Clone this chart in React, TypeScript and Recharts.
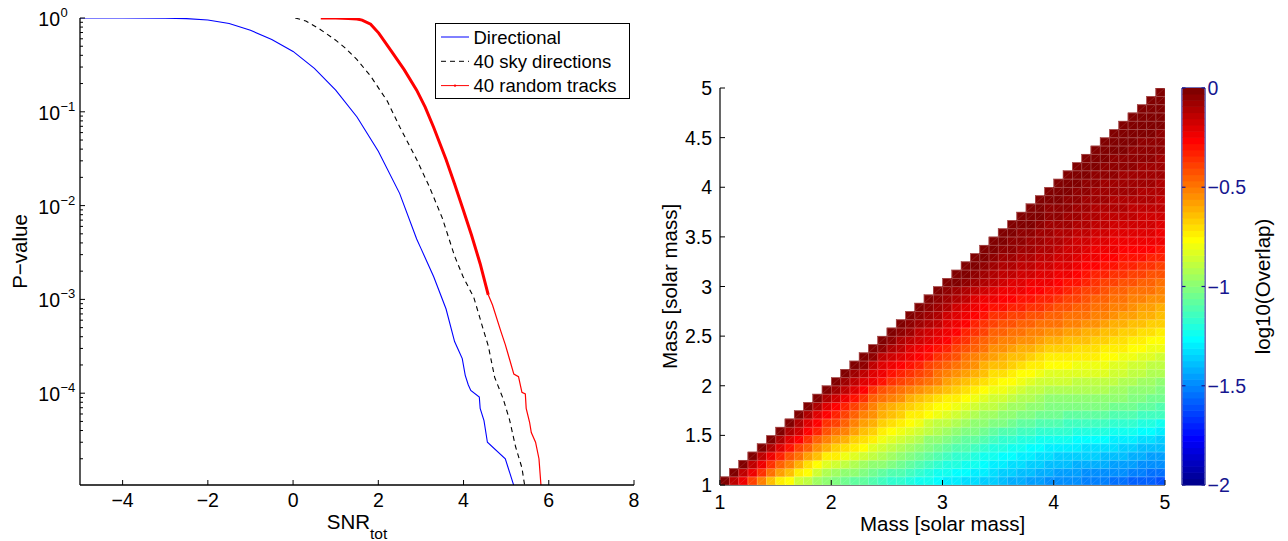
import React from 'react';
import { LineChart, Line, XAxis, YAxis, Legend, ScatterChart, Scatter, Label } from 'recharts';

const FONT = '"Liberation Sans", Arial, Helvetica, sans-serif';
const NAVY = '#16168f';
const TICK_FS = 19.5;
const LABEL_FS = 20.5;

// ---------------- Left panel: P-value vs SNR_tot ----------------
const snrTicks = [-4, -2, 0, 2, 4, 6, 8];
const pMajorTicks = [1e-4, 1e-3, 1e-2, 1e-1, 1];
const pMinorMultipliers = [2, 3, 4, 5, 6, 7, 8, 9];
const P_MIN = 1.05e-5;

const directionalSnr = [-5, -4, -3, -2.5, -2, -1.5, -1, -0.5, 0, 0.5, 1, 1.5, 2, 2.5, 2.9, 3.0, 3.3, 3.59, 3.79, 3.89, 3.97, 4.04, 4.11, 4.17, 4.37, 4.39, 4.48, 4.56, 4.98, 5.19];
const directionalP = [1, 0.9999, 0.996, 0.985, 0.953, 0.875, 0.74, 0.59, 0.44, 0.29, 0.17, 0.088, 0.038, 0.0135, 0.0044, 0.0035, 0.00174, 7.9e-4, 3.55e-4, 2.82e-4, 2.34e-4, 1.55e-4, 1.23e-4, 1.07e-4, 9.1e-5, 6.9e-5, 5.1e-5, 3.0e-5, 2.0e-5, 1.0e-5];

const skySnr = [0.05, 0.3, 0.63, 1.0, 1.22, 1.5, 1.82, 2.21, 2.51, 2.9, 3.2, 3.5, 3.79, 3.99, 4.24, 4.34, 4.48, 4.58, 4.73, 4.93, 5.08, 5.22, 5.37, 5.44];
const skyP = [1, 0.93, 0.76, 0.58, 0.48, 0.36, 0.24, 0.13, 0.068, 0.031, 0.0158, 0.0074, 0.0029, 0.00174, 0.00105, 7.4e-4, 4.5e-4, 3.2e-4, 1.48e-4, 8.7e-5, 5.2e-5, 2.7e-5, 1.6e-5, 1.0e-5];

const tracksUpperSnr = [0.65, 1.0, 1.3, 1.5, 1.62, 1.82, 2.01, 2.31, 2.61, 2.9, 3.1, 3.3, 3.59, 3.79, 3.99, 4.19, 4.39, 4.58];
const tracksUpperP = [1, 0.999, 0.99, 0.975, 0.95, 0.86, 0.69, 0.44, 0.28, 0.17, 0.112, 0.068, 0.031, 0.017, 0.0091, 0.0048, 0.0024, 0.00112];
const tracksLowerSnr = [4.58, 4.68, 4.88, 4.98, 5.08, 5.18, 5.29, 5.37, 5.45, 5.47, 5.55, 5.59, 5.69, 5.77, 5.82];
const tracksLowerP = [0.00112, 8.7e-4, 4.5e-4, 3.3e-4, 2.3e-4, 1.6e-4, 1.5e-4, 1.02e-4, 9.8e-5, 6.9e-5, 4.9e-5, 3.8e-5, 3.0e-5, 2.0e-5, 1.0e-5];

const legendNames = ['Directional', '40 sky directions', '40 random tracks'];

// ---------------- Right panel: log10(Overlap) map ----------------
const massTicksX = [1, 2, 3, 4, 5];
const massTicksY = [1, 1.5, 2, 2.5, 3, 3.5, 4, 4.5, 5];
const colorbarTicks = [-2, -1.5, -1, -0.5, 0];
const MASS_MIN = 1;
const MASS_STEP = 1 / 12;
const CELLS = 48;
// row j = second mass cell j; entries = -100*log10(Overlap) for first-mass cells j..47
const overlapRows: number[][] = [
  [0,15,25,40,53,63,72,76,85,90,95,100,102,104,107,109,111,113,116,118,120,123,125,128,130,131,133,134,136,137,139,141,142,144,145,147,148,149,150,151,152,153,154,155,157,158,159,160],
  [0,14,24,36,48,57,65,72,78,85,92,95,97,100,102,105,107,110,112,115,117,120,122,124,126,128,129,131,133,135,136,138,140,141,143,144,145,146,147,147,148,149,150,152,153,154,155],
  [0,13,23,35,45,53,61,69,76,83,86,89,92,95,97,100,103,106,109,111,114,117,119,121,123,125,127,129,131,132,134,136,137,139,140,140,141,142,142,143,144,145,146,148,149,150],
  [0,13,23,33,42,50,58,65,72,75,79,82,85,89,92,95,98,102,105,108,111,113,116,118,120,123,125,127,128,130,131,133,134,135,136,136,137,137,138,139,140,141,143,144,145],
  [0,12,21,30,38,46,54,62,66,70,74,78,82,86,89,93,96,99,103,106,108,110,112,115,117,119,121,122,124,126,127,129,130,130,131,132,132,133,134,135,136,138,139,140],
  [0,11,20,28,36,44,52,57,61,66,71,75,80,83,87,90,93,97,100,102,105,107,109,112,114,116,117,119,121,122,124,125,125,126,127,127,128,129,130,131,133,134,135],
  [0,10,18,26,34,42,47,52,58,63,68,73,76,80,83,86,90,93,96,98,101,103,106,108,110,111,113,114,116,117,118,118,119,120,120,121,122,124,125,126,128,129],
  [0,10,19,27,35,40,46,51,57,62,68,71,75,78,81,85,88,90,92,94,97,99,101,103,105,107,108,110,112,112,113,113,114,114,115,116,117,118,120,121,122],
  [0,10,19,27,33,39,45,51,56,62,65,68,72,75,78,81,84,86,89,91,94,96,98,99,101,103,104,106,106,107,107,108,108,109,110,111,112,113,114,115],
  [0,10,20,27,33,39,45,51,57,60,63,67,70,73,76,78,81,83,85,88,90,92,94,96,98,100,102,102,102,103,103,103,103,104,105,106,108,109,110],
  [0,10,17,24,30,37,44,50,53,56,60,63,66,69,72,74,77,80,82,85,87,89,91,93,95,97,97,97,97,98,98,98,99,100,102,103,105,106],
  [0,7,14,21,28,35,42,45,48,51,54,57,60,63,66,70,73,76,79,81,83,85,88,90,92,92,92,93,93,93,93,94,96,97,98,100,101],
  [0,7,13,19,25,31,35,38,42,46,49,53,57,60,64,67,71,74,76,78,80,83,85,87,87,87,88,88,88,88,90,91,93,94,96,97],
  [0,7,13,19,25,29,33,36,40,43,47,51,54,58,62,65,69,71,73,76,78,80,82,82,83,83,83,84,84,86,87,89,90,92,93],
  [0,6,13,20,24,27,31,34,38,41,45,49,52,56,60,63,65,68,70,72,75,77,78,78,79,79,80,80,82,83,85,86,88,89],
  [0,6,13,17,20,24,28,31,35,39,43,47,51,55,59,61,63,65,68,70,72,73,73,74,75,75,76,78,79,81,82,84,85],
  [0,6,11,15,19,23,26,30,34,38,42,46,50,54,56,58,60,62,64,66,67,68,69,70,71,72,74,75,77,78,80,81],
  [0,5,10,14,17,21,24,28,32,36,41,45,49,51,53,55,56,58,60,61,63,64,65,67,68,70,71,73,74,76,77],
  [0,5,9,13,16,19,23,27,32,36,40,44,46,48,49,51,52,54,56,57,59,60,62,63,65,66,68,69,71,72],
  [0,5,9,12,15,19,23,27,32,36,40,41,43,44,46,47,49,50,52,53,55,56,58,60,61,63,65,66,68],
  [0,5,9,12,16,20,24,27,31,35,36,38,39,41,42,44,45,47,48,50,51,53,55,57,59,60,62,64],
  [0,5,9,12,16,19,23,26,30,31,33,34,36,37,39,41,43,45,46,48,50,52,53,55,57,58,60],
  [0,5,9,12,15,19,22,25,26,28,29,31,32,34,36,38,40,42,44,46,48,49,51,53,54,56],
  [0,4,7,10,14,17,21,22,24,25,26,28,29,31,33,36,38,40,42,44,45,47,49,50,52],
  [0,3,6,9,12,15,17,19,20,22,23,24,26,29,31,33,36,38,40,41,43,45,46,48],
  [0,3,6,9,11,13,15,16,18,19,20,22,25,27,29,32,34,36,37,39,40,42,43],
  [0,3,5,8,10,11,13,14,16,17,19,21,24,26,28,30,31,33,34,35,37,38],
  [0,3,5,7,8,10,11,13,14,16,18,21,23,25,27,28,29,30,31,32,33],
  [0,3,5,6,8,9,11,12,14,16,18,20,22,24,25,26,27,27,28,29],
  [0,2,4,6,7,9,10,12,14,16,18,19,21,22,22,23,24,24,25],
  [0,2,4,5,7,8,10,11,13,15,16,18,19,19,20,21,21,22],
  [0,2,3,5,7,8,9,11,12,14,15,16,16,17,18,18,19],
  [0,2,3,5,6,8,9,10,12,13,14,14,15,16,16,17],
  [0,2,4,5,6,7,9,10,11,12,12,13,14,14,15],
  [0,2,3,5,6,7,8,9,10,10,11,12,12,13],
  [0,2,3,4,6,7,8,8,9,9,10,10,11],
  [0,2,3,4,6,7,7,8,8,9,9,10],
  [0,2,3,4,5,6,7,7,8,8,9],
  [0,1,3,4,5,5,6,7,7,8],
  [0,1,3,4,4,5,6,6,7],
  [0,1,2,3,4,5,5,6],
  [0,1,2,3,4,4,5],
  [0,1,2,3,3,4],
  [0,1,2,2,3],
  [0,1,2,3],
  [0,1,2],
  [0,1],
  [0],
];

// layout constants (plot-area sizes in px)
const HM_W = 445;
const HM_H = 397;
const CB_W = 23;
const CB_LEVELS = 64;

// ---------------- helpers ----------------
const jetU = (n: number) => {
  if (n < 1 || n > 47) return 0;
  if (n <= 16) return n / 16;
  if (n <= 31) return 1;
  return (48 - n) / 16;
};
const jet64 = (k: number) => {
  const r = jetU(k - 24), g = jetU(k - 8), b = jetU(k + 8);
  return `rgb(${Math.round(r * 255)},${Math.round(g * 255)},${Math.round(b * 255)})`;
};
const colorFor = (v: number) => jet64(Math.min(64, Math.max(1, Math.floor(((v + 2) / 2) * 64) + 1)));
const fmt = (v: number) => (v < 0 ? '\u2212' + String(Math.abs(v)) : String(v));

const toPoints = (xs: number[], ps: number[]) => xs.map((snr, i) => ({ snr, p: ps[i] }));
const directionalData = toPoints(directionalSnr, directionalP);
const skyData = toPoints(skySnr, skyP);
const tracksUpperData = toPoints(tracksUpperSnr, tracksUpperP);
const tracksLowerData = toPoints(tracksLowerSnr, tracksLowerP);

const pAllTicks = [
  ...pMajorTicks,
  ...[-5, -4, -3, -2, -1].flatMap((e) => pMinorMultipliers.map((m) => m * Math.pow(10, e))),
].filter((v) => v >= P_MIN && v <= 1).sort((a, b) => a - b);

const isMajor = (v: number) => {
  const e = Math.log10(v);
  return Math.abs(e - Math.round(e)) < 1e-6;
};

const heatCells = overlapRows.flatMap((row, j) =>
  row.map((d, k) => {
    const v = -d / 100;
    return {
      m1: MASS_MIN + (j + k + 0.5) * MASS_STEP,
      m2: MASS_MIN + (j + 0.5) * MASS_STEP,
      logOverlap: v,
      color: colorFor(v),
    };
  })
);

// colormap levels of the colorbar (64-level jet, -2..0)
const colorBands = Array.from({ length: CB_LEVELS }, (_, i) => ({
  cbx: 0.5,
  level: -2 + (i + 0.5) / 32,
  color: jet64(i + 1),
}));

// ---------------- tick renderers ----------------
const LogTickLeft = (p: any) => {
  const { x, y, payload } = p;
  const v = payload.value;
  const major = isMajor(v);
  const e = Math.round(Math.log10(v));
  return (
    <g>
      <line x1={x} y1={y} x2={x + (major ? 5 : 3)} y2={y} stroke="#000" strokeWidth={1} />
      {major && (
        <text x={x - 20} y={y + 8} textAnchor="end" fontSize={TICK_FS} fontFamily={FONT} fill="#000">10</text>
      )}
      {major && (
        <text x={x - 19.5} y={y - 1} textAnchor="start" fontSize={13} fontFamily={FONT} fill="#000">{fmt(e)}</text>
      )}
    </g>
  );
};
const LogTickRight = (p: any) => {
  const { x, y, payload } = p;
  const major = isMajor(payload.value);
  return <line x1={x} y1={y} x2={x - (major ? 5 : 3)} y2={y} stroke="#000" strokeWidth={1} />;
};
const makeBottomTick = (labelDy: number) => (p: any) => {
  const { x, y, payload } = p;
  return (
    <g>
      <line x1={x} y1={y} x2={x} y2={y - 5} stroke="#000" strokeWidth={1} />
      <text x={x} y={y + labelDy} textAnchor="middle" fontSize={TICK_FS} fontFamily={FONT} fill="#000">{fmt(payload.value)}</text>
    </g>
  );
};
const TopTick = (p: any) => {
  const { x, y } = p;
  return <line x1={x} y1={y} x2={x} y2={y + 5} stroke="#000" strokeWidth={1} />;
};
const MassTickLeft = (p: any) => {
  const { x, y, payload } = p;
  return (
    <g>
      <line x1={x} y1={y} x2={x + 5} y2={y} stroke="#000" strokeWidth={1} />
      <text x={x - 8} y={y + 7} textAnchor="end" fontSize={TICK_FS} fontFamily={FONT} fill="#000">{fmt(payload.value)}</text>
    </g>
  );
};
const CbTickRight = (p: any) => {
  const { x, y, payload } = p;
  return (
    <g>
      <line x1={x} y1={y} x2={x - 3.5} y2={y} stroke={NAVY} strokeWidth={1.2} />
      <text x={x + 2.5} y={y + 7} textAnchor="start" fontSize={TICK_FS} fontFamily={FONT} fill={NAVY}>{fmt(payload.value)}</text>
    </g>
  );
};
const CbTickLeft = (p: any) => {
  const { x, y } = p;
  return <line x1={x} y1={y} x2={x + 3.5} y2={y} stroke={NAVY} strokeWidth={1.2} />;
};

const HeatCell = (props: any) => {
  const { cx, cy, payload } = props;
  if (cx == null || cy == null) return <g />;
  const w = HM_W / CELLS;
  const h = HM_H / CELLS;
  const x0 = cx - w / 2;
  const y0 = cy - h / 2;
  return (
    <g>
      <rect x={x0} y={y0} width={w} height={h} fill={payload.color} stroke={payload.color} strokeWidth={0.4} />
      <path d={`M${x0},${y0 + h}L${x0 + w},${y0}`} stroke="rgba(255,255,255,0.2)" strokeWidth={0.6} />
      <rect x={x0 + 0.3} y={y0 + 0.3} width={w - 0.3} height={h - 0.3} fill="none" stroke="rgba(255,255,255,0.28)" strokeWidth={0.6} />
    </g>
  );
};

const CbBand = (props: any) => {
  const { cx, cy, payload } = props;
  if (cx == null || cy == null) return <g />;
  const h = HM_H / CB_LEVELS;
  return <rect x={cx - CB_W / 2 + 0.6} y={cy - h / 2 - 0.3} width={CB_W - 1.2} height={h + 0.6} fill={payload.color} />;
};

const LegendBox = () => (
  <svg width={195} height={76} style={{ display: 'block' }}>
    <rect x={0.5} y={0.5} width={194} height={75} fill="#fff" stroke="#000" strokeWidth={1} />
    {legendNames.map((name, i) => {
      const cy = 14 + i * 24.3;
      const stroke = i === 0 ? '#0000ff' : i === 1 ? '#000' : '#ff0000';
      return (
        <g key={name}>
          <line x1={6} x2={34} y1={cy} y2={cy} stroke={stroke} strokeWidth={1} strokeDasharray={i === 1 ? '5 4' : undefined} />
          {i === 2 && <circle cx={20} cy={cy} r={1.2} fill="#ff0000" />}
          <text x={38.5} y={cy + 6.5} fontSize={18.5} fontFamily={FONT} fill="#000">{name}</text>
        </g>
      );
    })}
  </svg>
);

const PValueLabel = (props: any) => {
  const vb = props.viewBox;
  const cx = vb.x + 7;
  const cy = vb.y + vb.height / 2;
  return (
    <text x={cx} y={cy} transform={`rotate(-90 ${cx} ${cy})`} textAnchor="middle" fontSize={LABEL_FS} fontFamily={FONT} fill="#000">P{'\u2212'}value</text>
  );
};
const SnrLabel = (props: any) => {
  const vb = props.viewBox;
  return (
    <text x={vb.x + vb.width / 2} y={vb.y + 44} textAnchor="middle" fontFamily={FONT} fill="#000">
      <tspan fontSize={LABEL_FS}>SNR</tspan>
      <tspan fontSize={15.5} dy={9.5}>tot</tspan>
    </text>
  );
};
const MassXLabel = (props: any) => {
  const vb = props.viewBox;
  return (
    <text x={vb.x + vb.width / 2} y={vb.y + 46} textAnchor="middle" fontSize={LABEL_FS} fontFamily={FONT} fill="#000">Mass [solar mass]</text>
  );
};
const MassYLabel = (props: any) => {
  const vb = props.viewBox;
  const cx = vb.x + 16.5;
  const cy = vb.y + vb.height / 2;
  return (
    <text x={cx} y={cy} transform={`rotate(-90 ${cx} ${cy})`} textAnchor="middle" fontSize={LABEL_FS} fontFamily={FONT} fill="#000">Mass [solar mass]</text>
  );
};
const CbLabel = (props: any) => {
  const vb = props.viewBox;
  const cx = vb.x + 65;
  const cy = vb.y + vb.height / 2;
  return (
    <text x={cx} y={cy} transform={`rotate(-90 ${cx} ${cy})`} textAnchor="middle" fontSize={LABEL_FS} fontFamily={FONT} fill="#000">log10(Overlap)</text>
  );
};

const abs0: React.CSSProperties = { position: 'absolute', left: 0, top: 0 };

export default function App() {
  return (
    <div style={{ position: 'absolute', left: 0, top: 0, width: 1288, height: 541, background: '#fff', overflow: 'hidden' }}>
      {/* Left panel */}
      <div style={abs0}>
        <LineChart width={660} height={541} margin={{ top: 18, right: 26, bottom: 16, left: 20 }}>
          <XAxis
            dataKey="snr" type="number" domain={[-5, 8]} allowDataOverflow ticks={snrTicks} interval={0}
            height={40} tickSize={0} tickMargin={0} tickLine={false}
            axisLine={{ stroke: '#000', strokeWidth: 1.3 }} tick={makeBottomTick(22)}
          >
            <Label content={<SnrLabel />} />
          </XAxis>
          <XAxis
            xAxisId="top" orientation="top" dataKey="snr" type="number" domain={[-5, 8]} allowDataOverflow ticks={snrTicks} interval={0}
            height={0} tickSize={0} tickMargin={0} tickLine={false}
            axisLine={{ stroke: '#000', strokeWidth: 1.3 }} tick={TopTick}
          />
          <YAxis
            dataKey="p" type="number" scale="log" domain={[P_MIN, 1]} allowDataOverflow ticks={pAllTicks} interval={0}
            width={60} tickSize={0} tickMargin={0} tickLine={false}
            axisLine={{ stroke: '#000', strokeWidth: 1.3 }} tick={LogTickLeft}
          >
            <Label content={<PValueLabel />} />
          </YAxis>
          <YAxis
            yAxisId="right" orientation="right" dataKey="p" type="number" scale="log" domain={[P_MIN, 1]} allowDataOverflow ticks={pAllTicks} interval={0}
            width={0} tickSize={0} tickMargin={0} tickLine={false}
            axisLine={{ stroke: '#000', strokeWidth: 1.3 }} tick={LogTickRight}
          />
          <Line data={directionalData} dataKey="p" name="Directional" type="linear" stroke="#0000ff" strokeWidth={1.1} dot={false} isAnimationActive={false} />
          <Line data={skyData} dataKey="p" name="40 sky directions" type="linear" stroke="#000" strokeWidth={1.1} strokeDasharray="5 4" dot={false} isAnimationActive={false} />
          <Line data={tracksUpperData} dataKey="p" name="40 random tracks" type="linear" stroke="#ff0000" strokeWidth={3} dot={false} isAnimationActive={false} />
          <Line data={tracksLowerData} dataKey="p" name="40 random tracks (tail)" type="linear" stroke="#ff0000" strokeWidth={1.2} dot={false} isAnimationActive={false} legendType="none" />
          <Legend
            content={<LegendBox />}
            layout="horizontal" verticalAlign="middle" align="center"
            wrapperStyle={{ left: 435, top: 23, width: 195, height: 76 }}
          />
        </LineChart>
      </div>

      {/* Right panel: overlap map */}
      <div style={abs0}>
        <ScatterChart width={1288} height={541} margin={{ top: 88, right: 123, bottom: 16, left: 660 }}>
          <Scatter data={heatCells} shape={HeatCell} isAnimationActive={false} />
          <XAxis
            dataKey="m1" type="number" domain={[1, 5]} allowDataOverflow ticks={massTicksX} interval={0}
            height={40} tickSize={0} tickMargin={0} tickLine={false}
            axisLine={{ stroke: '#000', strokeWidth: 1.2 }} tick={makeBottomTick(24)}
          >
            <Label content={<MassXLabel />} />
          </XAxis>
          <XAxis
            xAxisId="top" orientation="top" dataKey="m1" type="number" domain={[1, 5]} allowDataOverflow ticks={massTicksX} interval={0}
            height={0} tickSize={0} tickMargin={0} tickLine={false}
            axisLine={{ stroke: '#000', strokeWidth: 1.2 }} tick={TopTick}
          />
          <YAxis
            dataKey="m2" type="number" domain={[1, 5]} allowDataOverflow ticks={massTicksY} interval={0}
            width={60} tickSize={0} tickMargin={0} tickLine={false}
            axisLine={{ stroke: '#000', strokeWidth: 1.2 }} tick={MassTickLeft}
          >
            <Label content={<MassYLabel />} />
          </YAxis>
          <YAxis
            yAxisId="right" orientation="right" dataKey="m2" type="number" domain={[1, 5]} allowDataOverflow ticks={massTicksY} interval={0}
            width={0} tickSize={0} tickMargin={0} tickLine={false} tick={false}
            axisLine={{ stroke: '#000', strokeWidth: 1.2 }}
          />
        </ScatterChart>
      </div>

      {/* Colorbar */}
      <div style={abs0}>
        <ScatterChart width={1288} height={541} margin={{ top: 78, right: 33, bottom: 46, left: 1172 }}>
          <Scatter data={colorBands} shape={CbBand} isAnimationActive={false} />
          <XAxis
            dataKey="cbx" type="number" domain={[0, 1]} allowDataOverflow ticks={[0, 1]} interval={0}
            height={10} tickSize={0} tickMargin={0} tickLine={false} tick={false}
            axisLine={{ stroke: NAVY, strokeWidth: 1.2 }}
          />
          <XAxis
            xAxisId="top" orientation="top" dataKey="cbx" type="number" domain={[0, 1]} allowDataOverflow ticks={[0, 1]} interval={0}
            height={10} tickSize={0} tickMargin={0} tickLine={false} tick={false}
            axisLine={{ stroke: NAVY, strokeWidth: 1.2 }}
          />
          <YAxis
            dataKey="level" type="number" domain={[-2, 0]} allowDataOverflow ticks={colorbarTicks} interval={0}
            width={10} tickSize={0} tickMargin={0} tickLine={false}
            axisLine={{ stroke: NAVY, strokeWidth: 1.2 }} tick={CbTickLeft}
          />
          <YAxis
            yAxisId="right" orientation="right" dataKey="level" type="number" domain={[-2, 0]} allowDataOverflow ticks={colorbarTicks} interval={0}
            width={50} tickSize={0} tickMargin={0} tickLine={false}
            axisLine={{ stroke: NAVY, strokeWidth: 1.2 }} tick={CbTickRight}
          >
            <Label content={<CbLabel />} />
          </YAxis>
        </ScatterChart>
      </div>
    </div>
  );
}
